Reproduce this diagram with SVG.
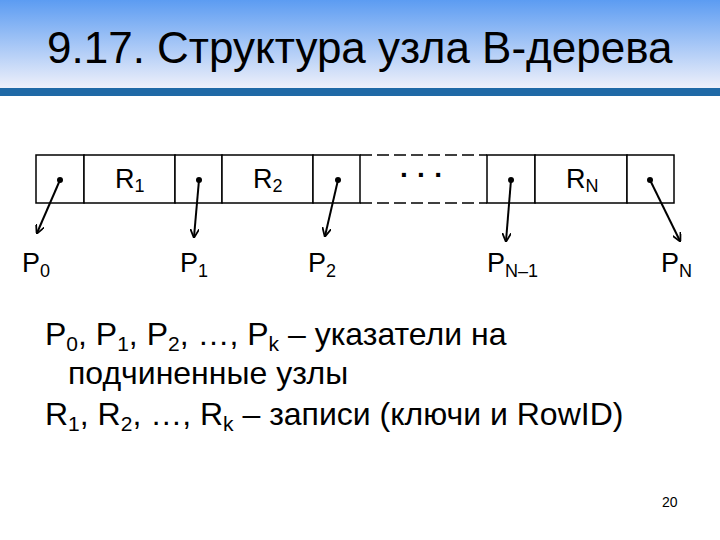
<svg xmlns="http://www.w3.org/2000/svg" width="720" height="540" viewBox="0 0 720 540">
<defs>
<linearGradient id="hg" x1="0" y1="0" x2="0" y2="1"><stop offset="0" stop-color="#5c9cf2"/><stop offset="1" stop-color="#eef0fa"/></linearGradient>
<marker id="ah" viewBox="0 0 10 10" refX="9" refY="5" markerWidth="9" markerHeight="9" orient="auto" markerUnits="userSpaceOnUse"><path d="M0,0 L10,5 L0,10" fill="none" stroke="#000" stroke-width="2"/></marker>
</defs>
<style>
text{font-family:"Liberation Sans",Arial,sans-serif;fill:#000}
.c{fill:#fff;stroke:#000;stroke-width:1.5}
.l{font-size:27px}
.b{font-size:32px}
.a{stroke:#000;stroke-width:2;marker-end:url(#ah)}
</style>
<rect width="720" height="540" fill="#fff"/>
<rect width="720" height="88" fill="url(#hg)"/>
<rect y="88" width="720" height="8" fill="#1f69a6"/>
<text x="47" y="63" font-size="44">9.17. Структура узла B-дерева</text>
<g id="node">
<rect class="c" x="36" y="155" width="48" height="48"/>
<rect class="c" x="84" y="155" width="91" height="48"/>
<rect class="c" x="175" y="155" width="47" height="48"/>
<rect class="c" x="222" y="155" width="91" height="48"/>
<rect class="c" x="313" y="155" width="47" height="48"/>
<path d="M360,155 H487 M360,203 H487" stroke="#000" stroke-width="1.5" stroke-dasharray="12,5"/>
<rect class="c" x="487" y="155" width="48" height="48"/>
<rect class="c" x="535" y="155" width="92" height="48"/>
<rect class="c" x="627" y="155" width="47" height="48"/>
<text class="l" x="115" y="188">R<tspan font-size="18" dy="4">1</tspan></text>
<text class="l" x="253" y="188">R<tspan font-size="18" dy="4">2</tspan></text>
<text class="l" x="566" y="188">R<tspan font-size="18" dy="4">N</tspan></text>
<text x="400" y="184" font-size="28" font-weight="bold">· · ·</text>
<g fill="#000"><circle cx="60" cy="180" r="3"/><circle cx="199" cy="180" r="3"/><circle cx="338" cy="180" r="3"/><circle cx="511" cy="180" r="3"/><circle cx="650" cy="180" r="3"/></g>
</g>
<g id="connectors">
<line class="a" x1="60" y1="180" x2="37" y2="233"/>
<line class="a" x1="199" y1="180" x2="194" y2="237"/>
<line class="a" x1="338" y1="180" x2="325" y2="236"/>
<line class="a" x1="511" y1="180" x2="506" y2="241"/>
<line class="a" x1="650" y1="180" x2="680" y2="241"/>
</g>
<g id="labels">
<text class="l" x="22" y="272">P<tspan font-size="18" dy="5">0</tspan></text>
<text class="l" x="180" y="272">P<tspan font-size="18" dy="5">1</tspan></text>
<text class="l" x="308" y="272">P<tspan font-size="18" dy="5">2</tspan></text>
<text class="l" x="487" y="272">P<tspan font-size="18" dy="5">N–1</tspan></text>
<text class="l" x="661" y="272">P<tspan font-size="18" dy="5">N</tspan></text>
</g>
<text class="b" x="45" y="345">P<tspan font-size="21" dy="6">0</tspan><tspan dy="-6">, P</tspan><tspan font-size="21" dy="6">1</tspan><tspan dy="-6">, P</tspan><tspan font-size="21" dy="6">2</tspan><tspan dy="-6">, …, P</tspan><tspan font-size="21" dy="6">k</tspan><tspan dy="-6"> – указатели на</tspan></text>
<text class="b" x="68" y="384">подчиненные узлы</text>
<text class="b" x="45" y="425">R<tspan font-size="21" dy="6">1</tspan><tspan dy="-6">, R</tspan><tspan font-size="21" dy="6">2</tspan><tspan dy="-6">, …, R</tspan><tspan font-size="21" dy="6">k</tspan><tspan dy="-6"> – записи (ключи и RowID)</tspan></text>
<text x="662" y="507" font-size="14">20</text>
</svg>
